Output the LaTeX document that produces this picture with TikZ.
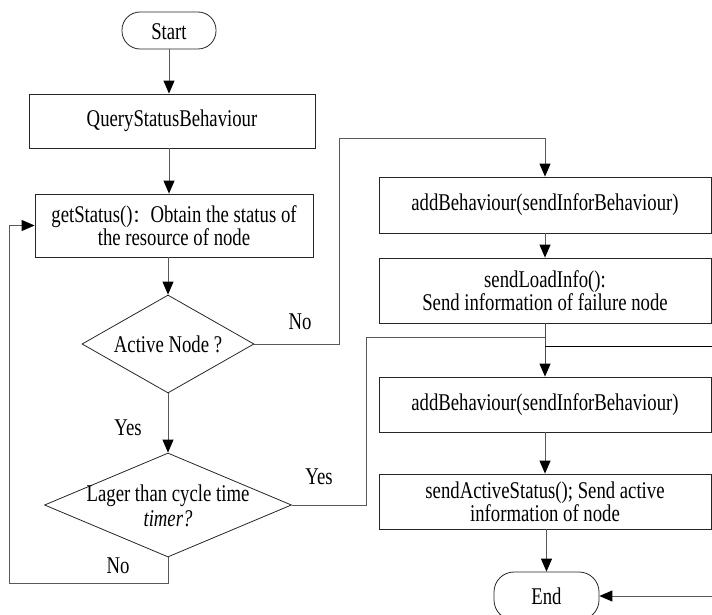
\documentclass[tikz,border=0pt]{standalone}
\usepackage{fontspec}
\setmainfont{Liberation Serif}[FakeStretch=0.78]
\newfontfamily\cjk{Noto Sans CJK SC}
\usetikzlibrary{shapes.geometric,arrows.meta}
\definecolor{slate}{HTML}{3A4A6E}

\begin{document}
\begin{tikzpicture}[x=1pt,y=-1pt,
  every node/.style={font=\fontsize{24}{22}\selectfont},
  box/.style={draw=black!85, line width=0.8pt, rectangle, inner sep=0pt, align=center},
  term/.style={box, rounded corners=18pt},
  decision/.style={draw=black!85, line width=0.8pt, diamond, inner sep=0pt},
  conn/.style={draw=black!65, line width=1pt},
  arr/.style={conn, -{Triangle[length=13pt,width=11pt,color=black]}},
  lbl/.style={inner sep=0pt}]

\useasboundingbox (0,0) rectangle (712,615);

% left column
\node[term, minimum width=94pt, minimum height=37pt, text height=19pt] (start) at (169,30.5) {Start};
\node[box, minimum width=286pt, minimum height=54pt] (query) at (172,121) {QueryStatusBehaviour};
\node[box, minimum width=278pt, minimum height=63pt] (getst) at (174,225.5)
  {getStatus(){\cjk\fontsize{18}{22}\selectfont ：}Obtain the status of\\the resource of node};
\node[decision, minimum width=172pt, minimum height=98pt] (d1) at (168,344) {};
\node[lbl] (d1t) at (d1) {Active Node ?};
\node[decision, minimum width=247pt, minimum height=104pt] (d2) at (168,505) {};
\node[lbl, align=center, font=\fontsize{24}{25}\selectfont] (d2t) at (168,506)
  {Lager than cycle time\\\textit{timer?}};

% right column
\node[box, minimum width=332pt, minimum height=56pt] (add1) at (545,205) {addBehaviour(sendInforBehaviour)};
\node[box, minimum width=332pt, minimum height=65pt, font=\fontsize{24}{18}\selectfont] (load) at (545,290.5)
  {sendLoadInfo():\\Send information of failure node};
\node[box, minimum width=332pt, minimum height=55pt] (add2) at (545,404.5) {addBehaviour(sendInforBehaviour)};
\node[box, minimum width=332pt, minimum height=55pt] (active) at (545,501.5)
  {sendActiveStatus(); Send active\\information of node};
\node[term, minimum width=105pt, minimum height=48pt, rounded corners=20pt] (stop) at (546.5,596) {End};

% bend points and free ends
\coordinate (loopc) at (9,583);
\coordinate (nobend) at (339,139);
\coordinate (yesbend) at (366,337);
\coordinate (tap) at (545,346);
\coordinate (edgeA) at (712,346);
\coordinate (edgeB) at (712,596);

% connectors
\draw[arr] (start.south) -- (start.south |- query.north);
\draw[arr] (query.south -| start) -- (getst.north -| start);
\draw[arr] (getst.south -| d1) -- (d1.north);
\draw[arr] (d1.south) -- (d2.north);
\draw[arr] (d2.south) |- (loopc) |- (getst.west);
\draw[arr] (d1.east) -| (nobend) -| (add1.north);
\draw[arr] (add1.south) -- (load.north);
\draw[arr, draw=slate] (load.south) -- (add2.north);
\draw[conn] (d2.east) -| (yesbend) -- (yesbend -| add2.north);
\draw[conn, draw=black] (tap) -- (edgeA);
\draw[arr] (add2.south) -- (active.north);
\draw[arr] (active.south -| stop) -- (stop.north);
\draw[arr] (edgeB) -- (stop.east);

% branch labels
\node[lbl] (no1) at (300,322) {No};
\node[lbl] (yes1) at (128,428) {Yes};
\node[lbl] (yes2) at (319,477) {Yes};
\node[lbl] (no2) at (118,566) {No};
\end{tikzpicture}
\end{document}
